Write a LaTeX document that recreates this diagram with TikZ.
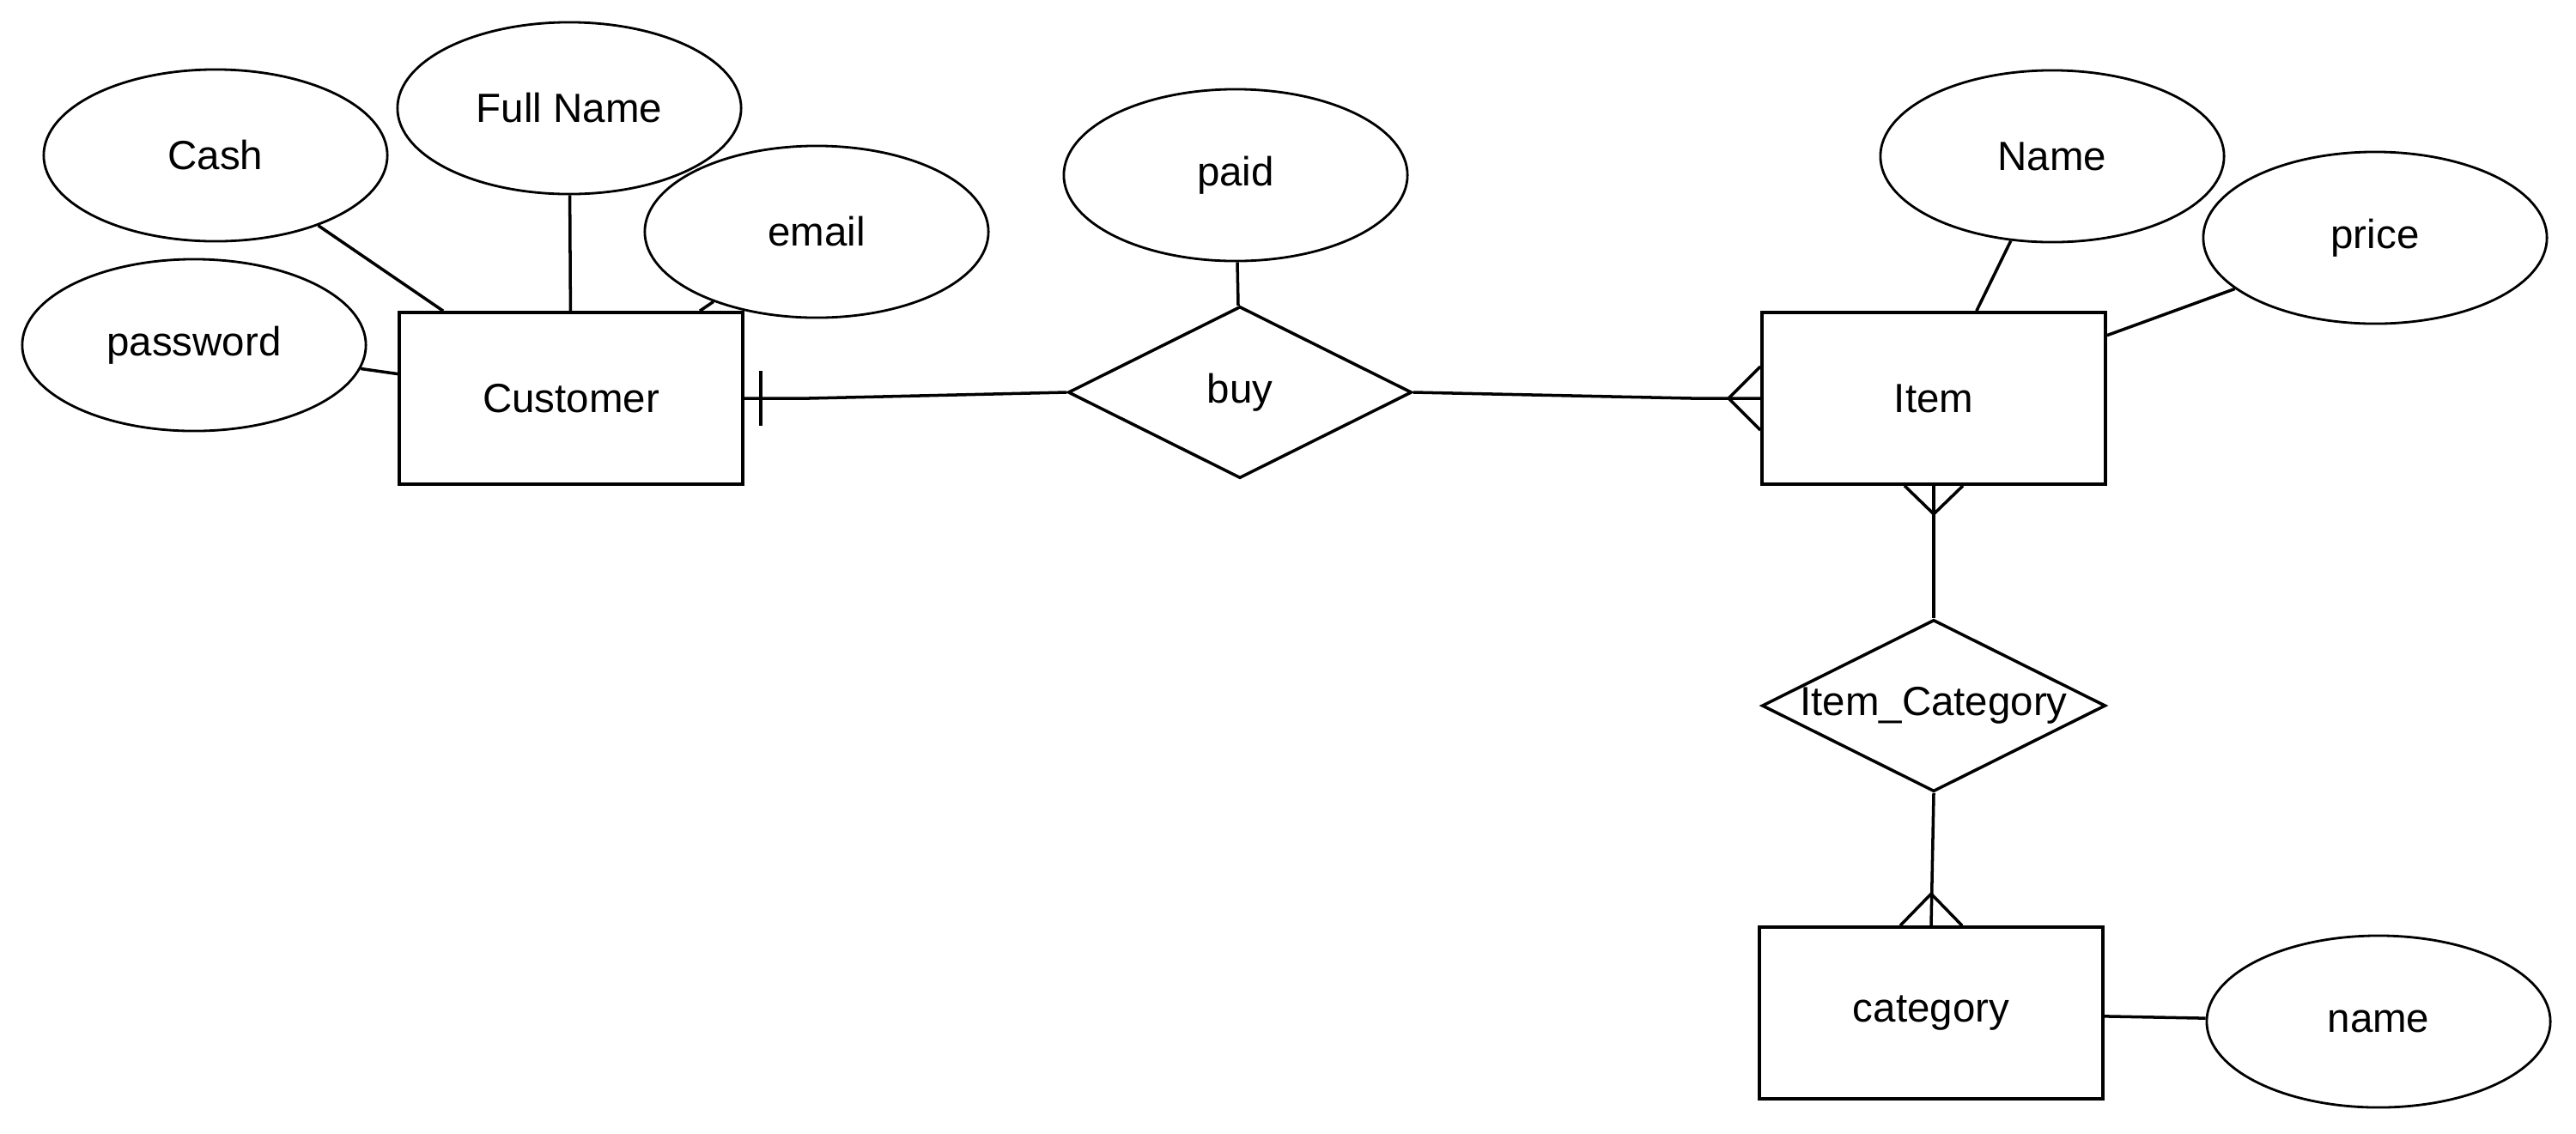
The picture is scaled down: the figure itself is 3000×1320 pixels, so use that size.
\documentclass[tikz,border=0pt]{standalone}
\usepackage{fontspec}
\setmainfont{Liberation Sans}
\usetikzlibrary{shapes.geometric,calc}

\begin{document}
\begin{tikzpicture}[x=0.01cm,y=-0.01cm,line width=1pt,font=\fontsize{13.5}{16}\selectfont,
    entity/.style={draw,minimum width=4cm,minimum height=2cm,inner sep=0pt},
    attr/.style={draw,ellipse,line width=0.8pt,minimum width=4cm,minimum height=2cm,inner sep=0pt},
    rel/.style={draw,diamond,minimum width=4cm,minimum height=2cm,inner sep=0pt}]
                \useasboundingbox (0,0) rectangle (3000,1320);
                \node[entity] (customer) at (665,464) {Customer};
                \node[entity] (item) at (2252,464) {Item};
                \node[entity] (category) at (2249,1180) {category};
                \node[rel,label=center:buy] (buy) at (1444,457) {};
                \node[rel,label=center:Item\_Category] (itemcat) at (2252,822) {};
                \node[attr] (cash) at (251,181) {Cash};
                \node[attr] (fullname) at (663,126) {Full Name};
                \node[attr] (email) at (951,270) {email};
                \node[attr] (password) at (226,402) {password};
                \node[attr] (paid) at (1439,204) {paid};
                \node[attr] (name) at (2390,182) {Name};
                \node[attr] (price) at (2766,277) {price};
                \node[attr] (catname) at (2770,1190) {name};
                \foreach \a/\b in {cash/customer, fullname/customer, email/customer, password/customer, paid/buy, name/item, price/item, catname/category}
                    \draw (\a) -- (\b);
                \draw (customer.east) -- ++(75,0) -- (buy.west);
                \draw (buy.east) -- ($(item.west)+(-80,0)$) -- (item.west);
                \draw (item.south) -- (itemcat.north);
                \draw (itemcat.south) -- (category.north);
                % one and many ends
                \draw (customer.east) ++(19,-32) -- ++(0,64);
                \draw (item.west) ++(0,-37) -- ++(-37,37) -- ++(37,37);
                \draw (item.south) ++(-34,0) -- ++(34,33) -- ++(34,-33);
                \draw (category.north) ++(-36,0) -- ++(36,-37) -- ++(36,37);
            \end{tikzpicture}
\end{document}
